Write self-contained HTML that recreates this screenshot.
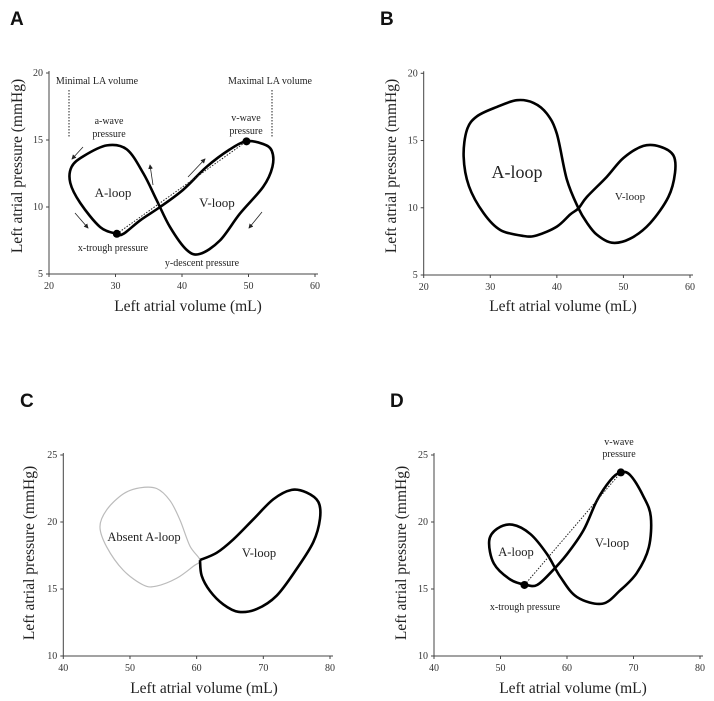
<!DOCTYPE html>
<html><head><meta charset="utf-8">
<style>
html,body{margin:0;padding:0;background:#fff;}
svg{display:block;font-family:"Liberation Serif",serif;}
.lbl{font-family:"Liberation Sans",sans-serif;font-weight:bold;font-size:19px;fill:#111;}
.tick{font-size:10px;fill:#333;}
.ttl{font-size:15.5px;fill:#222;}
.ann{font-size:10px;fill:#222;}
</style></head>
<body>
<svg id="fig" width="714" height="701" viewBox="0 0 714 701"></svg>
<script>
// Panel A data (volume mL, pressure mmHg)
const aVol=[30.2,27.7,24.7,23.2,23.4,25.2,28.7,31.7,34.2,36.2,38.2,40.7,42.7,45.7,48.7,52.2,53.6,53.5,52.2,49.7,47.2,43.7,40.2,36.7,33.7,31.2];
const aPres=[8,8.5,10.3,11.8,13,13.8,14.6,14.3,12.5,10.5,8.5,6.8,6.5,7.5,9.5,11.5,13,14.2,14.7,14.9,14.3,13,11.3,10,9,8.0];
const aTrough=[30.2,8]; const aVwave=[49.7,14.9];
// Panel B
const bVol=[43.25,41.5,40,38.5,36.5,34,31,28,26.5,26,26.8,29,31.5,35,37,40,42,43.25,44.5,47.5,50,53,55.5,57.5,57.75,56.75,54,51,48.25,46,44.5];
const bPres=[9.96,12.1,15.5,17.0,17.8,18,17.5,16.8,15.8,13.8,11.6,9.6,8.35,7.9,7.95,8.6,9.5,9.96,10.8,12.3,13.7,14.6,14.55,13.9,12.6,10.8,8.85,7.7,7.4,8.0,8.9];
// Panel C
const cAVol=[60.5,59,57.5,56,54,51.5,49,46.5,45.5,46.5,49,52,54,57,59.5];
const cAPres=[17.16,18.2,20.15,21.6,22.5,22.55,22.1,20.9,19.65,18.15,16.4,15.3,15.22,15.8,16.7];
const cVVol=[60.5,63,65.5,68.5,71.5,74.25,76.5,78.25,78.5,77.5,75,72,69,66.25,64,62,60.75,60.5];
const cVPres=[17.16,17.7,18.7,20.2,21.7,22.4,22.2,21.5,20.25,18.5,16.5,14.5,13.5,13.3,13.85,14.85,16,17.16];
// Panel D
const dVol=[53.9,51.5,49,48.3,49.5,51.8,54.5,57,59,61.5,65.3,68,70.5,72.3,72.6,71.5,69.5,68,66.5,64.5,62.5,60,57.5,55.5];
const dPres=[15.3,15.7,16.9,18.6,19.5,19.8,19.1,17.6,15.9,14.4,13.9,14.9,16.2,18.1,20.4,21.9,23.5,23.7,23.1,21.6,19.4,17.6,16.2,15.3];
const dTrough=[53.6,15.3]; const dVwave=[68.1,23.7];
const xTicksAB=[20,30,40,50,60]; const yTicksAB=[5,10,15,20];
const xTicksCD=[40,50,60,70,80]; const yTicksCD=[10,15,20,25];

const NS="http://www.w3.org/2000/svg";
const svg=document.getElementById('fig');
function mk(tag,attrs,parent){const e=document.createElementNS(NS,tag);for(const k in attrs)e.setAttribute(k,attrs[k]);(parent||svg).appendChild(e);return e;}
function txt(s,x,y,cls,name,anchor,parent){const t=mk('text',{x:x,y:y,class:cls,'text-anchor':anchor||'middle'},parent);t.textContent=s;


return t;}
function axes(name,x0,y0,x1,y1,xd,yd,xt,yt){
 const g=mk('g',{});
 
 
 const sx=v=>x0+(v-xd[0])/(xd[1]-xd[0])*(x1-x0);
 const sy=v=>y1-(v-yd[0])/(yd[1]-yd[0])*(y1-y0);
 const ax=mk('path',{d:`M${x0},${y0-2}V${y1}H${x1+3}`,stroke:'#444','stroke-width':1,fill:'none'},g);
 
 
 xt.forEach(v=>{mk('line',{x1:sx(v),x2:sx(v),y1:y1,y2:y1+3,stroke:'#444'},g);txt(String(v),sx(v),y1+15,'tick','x-tick-label','middle',g);});
 yt.forEach(v=>{mk('line',{x1:x0-3,x2:x0,y1:sy(v),y2:sy(v),stroke:'#444'},g);txt(String(v),x0-6,sy(v)+3,'tick','y-tick-label','end',g);});
 return {sx,sy,g};
}
function spline(xs,ys,A,closed){
 const p=xs.map((v,i)=>[A.sx(v),A.sy(ys[i])]);const n=p.length;
 const get=i=>closed?p[(i+n)%n]:p[Math.max(0,Math.min(n-1,i))];
 let d=`M${p[0][0]},${p[0][1]}`;const m=closed?n:n-1;
 for(let i=0;i<m;i++){const p0=get(i-1),p1=get(i),p2=get(i+1),p3=get(i+2);
  d+=`C${p1[0]+(p2[0]-p0[0])/6},${p1[1]+(p2[1]-p0[1])/6} ${p2[0]-(p3[0]-p1[0])/6},${p2[1]-(p3[1]-p1[1])/6} ${p2[0]},${p2[1]}`;}
 return d+(closed?'Z':'');
}
function loop(name,xs,ys,A,closed,color,w){
 const e=mk('path',{d:spline(xs,ys,A,closed),fill:'none',stroke:color,'stroke-width':w,'stroke-linejoin':'round'},A.g);
 
 
}
function dot(name,pt,A){const c=mk('circle',{cx:A.sx(pt[0]),cy:A.sy(pt[1]),r:4,fill:'#000'},A.g);
 
 }
function dline(name,p,q,A){const l=mk('line',{x1:A.sx(p[0]),y1:A.sy(p[1]),x2:A.sx(q[0]),y2:A.sy(q[1]),stroke:'#222','stroke-width':1,'stroke-dasharray':'1.5,1.5'},A.g);
 
 }
function titles(cx,cy,yx){
 txt('Left atrial volume (mL)',cx,cy,'ttl','x-axis-title');
 const t=txt('Left atrial pressure (mmHg)',0,0,'ttl','y-axis-title');t.setAttribute('transform',`translate(${yx},${(cy>400?553:166)}) rotate(-90)`);
}
mk('defs',{}).innerHTML='<marker id="ah" markerWidth="6" markerHeight="6" refX="5" refY="3" orient="auto"><path d="M0,0L6,3L0,6Z" fill="#222"/></marker>';
function arrow(x1,y1,x2,y2){const l=mk('line',{x1,y1,x2,y2,stroke:'#222','stroke-width':0.8,'marker-end':'url(#ah)'});
 
 }

// Panel A
txt('A',10,25,'lbl','panel-label-a','start');
const A=axes('panel-a',49,73,315,274,[20,60],[5,20],xTicksAB,yTicksAB);
titles(188,311,22);
loop('pv-loop-a',aVol,aPres,A,true,'#000',2.6);
dline('trough-to-vwave-line',aTrough,aVwave,A);
dot('x-trough-point',aTrough,A);dot('v-wave-point',aVwave,A);
mk('line',{x1:69,y1:90,x2:69,y2:138,stroke:'#222','stroke-dasharray':'1.5,1.5'});
mk('line',{x1:272,y1:90,x2:272,y2:138,stroke:'#222','stroke-dasharray':'1.5,1.5'});
txt('Minimal LA volume',97,84,'ann','minimal-la-volume-label');
txt('Maximal LA volume',270,84,'ann','maximal-la-volume-label');
txt('a-wave',109,124,'ann','a-wave-label');txt('pressure',109,137,'ann','a-wave-label-2');
txt('v-wave',246,121,'ann','v-wave-label');txt('pressure',246,134,'ann','v-wave-label-2');
txt('A-loop',113,197,'ann','a-loop-label').style.fontSize='13px';
txt('V-loop',217,207,'ann','v-loop-label').style.fontSize='13px';
txt('x-trough pressure',113,251,'ann','x-trough-label');
txt('y-descent pressure',202,266,'ann','y-descent-label');
arrow(83,147,72,159);arrow(153,185,150,165);arrow(188,177,205,159);arrow(262,212,249,228);arrow(75,213,88,228);

// Panel B
txt('B',380,25,'lbl','panel-label-b','start');
const B=axes('panel-b',423.7,73.3,690,275,[20,60],[5,20],xTicksAB,yTicksAB);
titles(563,311,396);
loop('pv-loop-b',bVol,bPres,B,true,'#000',2.6);
txt('A-loop',517,178,'ann','a-loop-label-b').style.fontSize='18px';
txt('V-loop',630,200,'ann','v-loop-label-b').style.fontSize='11px';

// Panel C
txt('C',20,407,'lbl','panel-label-c','start');
const C=axes('panel-c',63.3,455,330,656,[40,80],[10,25],xTicksCD,yTicksCD);
titles(204,693,34);
loop('absent-a-loop',cAVol,cAPres,C,true,'#bbb',1.2);
loop('v-loop-c',cVVol,cVPres,C,false,'#000',2.6);
txt('Absent A-loop',144,541,'ann','absent-a-loop-label').style.fontSize='12.5px';
txt('V-loop',259,557,'ann','v-loop-label-c').style.fontSize='12.5px';

// Panel D
txt('D',390,407,'lbl','panel-label-d','start');
const D=axes('panel-d',434,455,700,656,[40,80],[10,25],xTicksCD,yTicksCD);
titles(573,693,406);
loop('pv-loop-d',dVol,dPres,D,true,'#000',2.6);
dline('trough-to-vwave-line-d',dTrough,dVwave,D);
dot('x-trough-point-d',dTrough,D);dot('v-wave-point-d',dVwave,D);
txt('A-loop',516,556,'ann','a-loop-label-d').style.fontSize='12.5px';
txt('V-loop',612,547,'ann','v-loop-label-d').style.fontSize='12.5px';
txt('v-wave',619,445,'ann','v-wave-label-d');txt('pressure',619,457,'ann','v-wave-label-d2');
txt('x-trough pressure',525,610,'ann','x-trough-label-d');
</script>
</body></html>
